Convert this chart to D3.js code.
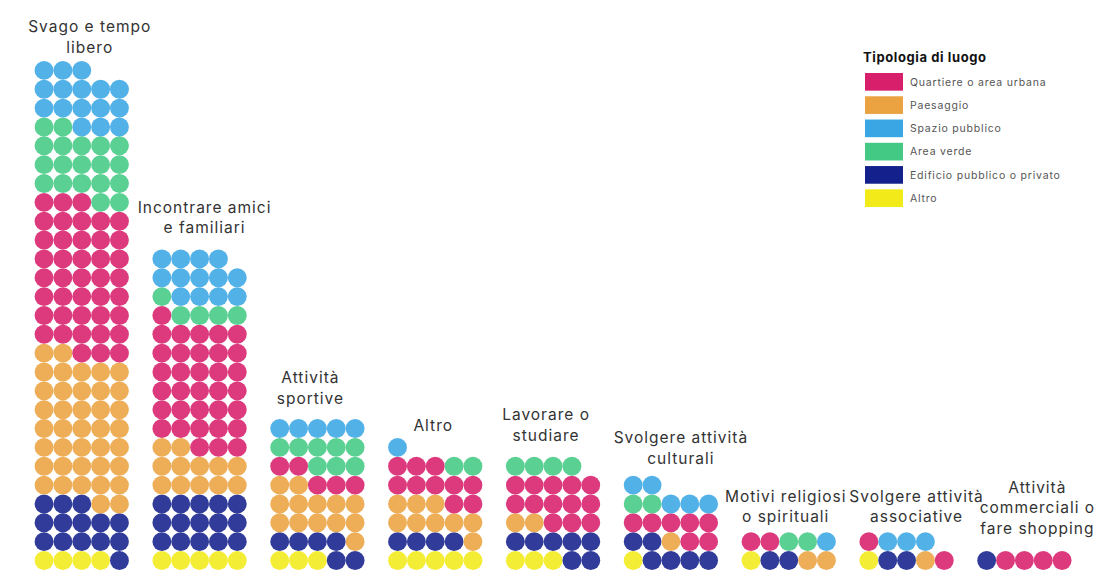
<!DOCTYPE html>
<html>
<head>
<meta charset="utf-8">
<script src="https://cdn.jsdelivr.net/npm/d3@7"></script>
<style>
  html, body { margin: 0; padding: 0; background: #fff; }
  svg { display: block; }
  .label { font-family: Inter, "Noto Sans", sans-serif; font-size: 15.5px; letter-spacing: 1px; fill: #333; }
  .legend-title { font-family: Inter, "Noto Sans", sans-serif; font-size: 13px; font-weight: 700; letter-spacing: 0.6px; fill: #111; }
  .legend-item { font-family: Inter, "Noto Sans", sans-serif; font-size: 10.5px; letter-spacing: 0.8px; fill: #555; }
</style>
</head>
<body>
<svg id="chart" width="1100" height="572"></svg>
<script>
// Motivations for visiting (one column of dots per motivation)
const categories = [
  "Svago e tempo libero",
  "Incontrare amici e familiari",
  "Attività sportive",
  "Altro",
  "Lavorare o studiare",
  "Svolgere attività culturali",
  "Motivi religiosi o spirituali",
  "Svolgere attività associative",
  "Attività commerciali o fare shopping"
];

// Wrapped label lines for each motivation
const labelLines = [
  ["Svago e tempo", "libero"],
  ["Incontrare amici", "e familiari"],
  ["Attività", "sportive"],
  ["Altro"],
  ["Lavorare o", "studiare"],
  ["Svolgere attività", "culturali"],
  ["Motivi religiosi", "o spirituali"],
  ["Svolgere attività", "associative"],
  ["Attività", "commerciali o", "fare shopping"]
];

// Counts per type of place, one value per motivation
const quartiere      = [41, 34, 5, 10, 13, 7, 2, 2, 4];
const paesaggio      = [39, 12, 13, 9, 2, 1, 2, 1, 0];
const spazioPubblico = [16, 13, 5, 1, 0, 5, 1, 3, 0];
const areaVerde      = [19, 5, 8, 2, 4, 2, 2, 0, 0];
const edificio       = [14, 15, 6, 4, 7, 6, 2, 2, 1];
const altro          = [4, 5, 3, 5, 3, 1, 1, 1, 0];

// Legend order (top to bottom)
const placeTypes = [
  "Quartiere o area urbana",
  "Paesaggio",
  "Spazio pubblico",
  "Area verde",
  "Edificio pubblico o privato",
  "Altro"
];
const placeSeries = [quartiere, paesaggio, spazioPubblico, areaVerde, edificio, altro];
const placeColors = ["#d81f6c", "#eaa340", "#3aa6e4", "#43c983", "#14218c", "#f3ea1a"];

// Stacking order from the bottom of each column
const stackOrder = [5, 4, 1, 0, 3, 2];

// Small label nudges so neighbouring captions do not collide
const labelNudgeX = [8, 5, -7, -2, -7, 10, -3, 10, 13];
const labelNudgeY = [4, -4, -3, 5, -4, 0, 2, 2, -5];

const perRow = 5;
const step = 18.85;
const radius = 9.45;

const svg = d3.select("#chart");

const color = d3.scaleOrdinal().domain(placeTypes).range(placeColors);

const x = d3.scaleBand()
  .domain(categories)
  .range([34.6, 1071.5])
  .paddingInner(0.2);

const col = d3.scaleLinear().domain([0, perRow - 1]).range([radius, radius + (perRow - 1) * step]);
const row = d3.scaleLinear().domain([0, 30]).range([560.5, 560.5 - 30 * step]);

// One record per dot, filled left-to-right then bottom-to-top
const dots = [];
const tops = [];
categories.forEach((cat, ci) => {
  let k = 0;
  stackOrder.forEach(ti => {
    const n = placeSeries[ti][ci];
    for (let j = 0; j < n; j++) {
      dots.push({ cat, type: placeTypes[ti], c: k % perRow, r: Math.floor(k / perRow) });
      k++;
    }
  });
  tops.push(Math.ceil(k / perRow) - 1);
});

svg.append("g")
  .selectAll("circle")
  .data(dots)
  .join("circle")
  .attr("cx", d => x(d.cat) + col(d.c))
  .attr("cy", d => row(d.r))
  .attr("r", radius)
  .attr("fill", d => color(d.type))
  .attr("fill-opacity", 0.88);

// Labels above each column
const labels = svg.append("g");
categories.forEach((cat, ci) => {
  const lines = labelLines[ci];
  const cx = x(cat) + x.bandwidth() / 2 + labelNudgeX[ci];
  const lastY = row(tops[ci]) - 27 + labelNudgeY[ci];
  const t = labels.append("text")
    .attr("class", "label")
    .attr("text-anchor", "middle");
  lines.forEach((ln, li) => {
    t.append("tspan")
      .attr("x", cx)
      .attr("y", lastY - (lines.length - 1 - li) * 20.5)
      .attr("dy", "0.35em")
      .text(ln);
  });
});

// Legend
const legend = svg.append("g").attr("transform", "translate(863,0)");
legend.append("text")
  .attr("class", "legend-title")
  .attr("x", 0)
  .attr("y", 57)
  .attr("dy", "0.35em")
  .text("Tipologia di luogo");

const ly = d3.scaleBand().domain(placeTypes).range([73, 207]).paddingInner(0.24);

const items = legend.selectAll("g.item")
  .data(placeTypes)
  .join("g")
  .attr("class", "item")
  .attr("transform", d => `translate(0,${ly(d)})`);

items.append("rect")
  .attr("x", 2)
  .attr("width", 38)
  .attr("height", ly.bandwidth())
  .attr("fill", d => color(d));

items.append("text")
  .attr("class", "legend-item")
  .attr("x", 47)
  .attr("y", ly.bandwidth() / 2)
  .attr("dy", "0.35em")
  .text(d => d);
</script>
</body>
</html>
